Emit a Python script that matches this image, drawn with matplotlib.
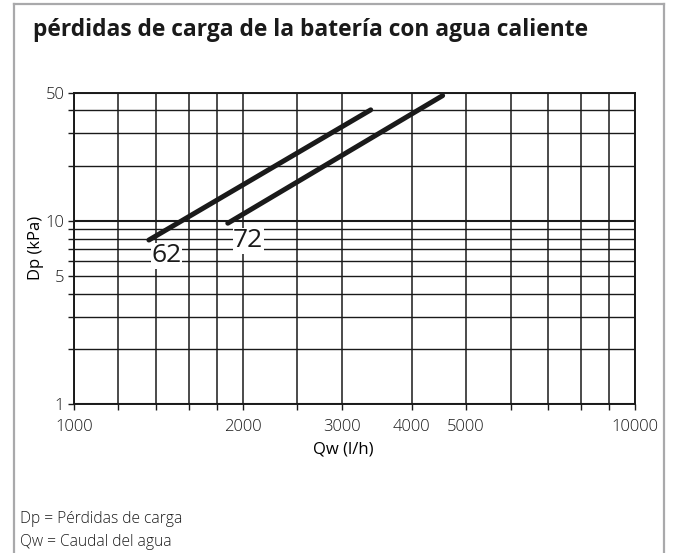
import matplotlib
matplotlib.use("Agg")
import matplotlib.pyplot as plt
from matplotlib.lines import Line2D

plt.rcParams['font.family'] = ['Open Sans', 'DejaVu Sans']
plt.rcParams['font.weight'] = 'light'

# curves (Qw l/h, Dp kPa)
qw_62 = [1360, 3380]
dp_62 = [7.85, 40.3]
qw_72 = [1880, 4540]
dp_72 = [9.7, 48.2]
label_62 = (1463, 6.45)
label_72 = (2045, 7.8)

x_grid = [1000, 1200, 1400, 1600, 1800, 2000, 2500, 3000, 4000, 5000,
          6000, 7000, 8000, 9000, 10000]
x_labels = [1000, 2000, 3000, 4000, 5000, 10000]
y_grid = [1, 2, 3, 4, 5, 6, 7, 8, 9, 10, 20, 30, 40, 50]
y_labels = [1, 5, 10, 50]

title = "pérdidas de carga de la batería con agua caliente"
notes = ["Dp = Pérdidas de carga", "Qw = Caudal del agua"]

fig = plt.figure(figsize=(6.75, 5.53), dpi=100)
W, H = 675, 553

# grey frame
fc = '#a9a9ab'
fig.add_artist(Line2D([14 / W, 14 / W], [0, 1 - 4 / H], color=fc, lw=1.6))
fig.add_artist(Line2D([14 / W, 664 / W], [1 - 4 / H, 1 - 4 / H], color=fc, lw=1.6))
fig.add_artist(Line2D([664 / W, 664 / W], [0, 1 - 4 / H], color=fc, lw=1.6))

ax = fig.add_axes([74 / W, 1 - 404 / H, (635 - 74) / W, (404 - 92.7) / H])
ax.set_xscale('log')
ax.set_yscale('log')
ax.set_xlim(1000, 10000)
ax.set_ylim(1, 50)

for v in x_grid:
    ax.axvline(v, color='#1a1a1a', lw=1.1 if v not in (1000, 10000) else 1.4, zorder=1)
for v in y_grid:
    ax.axhline(v, color='#1a1a1a', lw=1.5 if v in (1, 10, 50) else 1.0, zorder=1)

ax.plot(qw_62, dp_62, color='#1a1a1a', lw=3.6, solid_capstyle='round', zorder=3)
ax.plot(qw_72, dp_72, color='#1a1a1a', lw=3.6, solid_capstyle='round', zorder=3)

for txt, pos in (("62", label_62), ("72", label_72)):
    ax.text(pos[0], pos[1], txt, fontsize=19, fontweight='normal', ha='center', va='center',
            color='#1a1a1a', bbox=dict(facecolor='white', edgecolor='none', pad=0.3), zorder=4)

ax.set_xticks(x_grid)
ax.set_xticklabels([str(v) if v in x_labels else '' for v in x_grid])
ax.set_yticks(y_grid)
ax.set_yticklabels([str(v) if v in y_labels else '' for v in y_grid])
ax.minorticks_off()
ax.tick_params(axis='both', labelsize=12, colors='#1a1a1a', width=1, length=4)
ax.tick_params(axis='x', pad=7)
ax.tick_params(axis='y', pad=3)
for s in ax.spines.values():
    s.set_linewidth(1.4)
    s.set_color('#1a1a1a')

ax.set_xlabel("Qw (l/h)", fontsize=12, labelpad=2)
ax.xaxis.set_label_coords((343 - 74) / 561, -(450 - 404) / (404 - 92.7))
ax.xaxis.label.set_va('center')
ax.set_ylabel("Dp (kPa)", fontsize=12, labelpad=1)

fig.text(33 / W, 1 - 30 / H, title, fontsize=16.4, fontweight='bold', va='center', ha='left',
         color='#1a1a1a')
fig.text(20 / W, 1 - 519 / H, notes[0], fontsize=11.2, va='center', ha='left', color='#1a1a1a')
fig.text(20 / W, 1 - 542 / H, notes[1], fontsize=11.2, va='center', ha='left', color='#1a1a1a')

fig.savefig("out.png", dpi=100)
